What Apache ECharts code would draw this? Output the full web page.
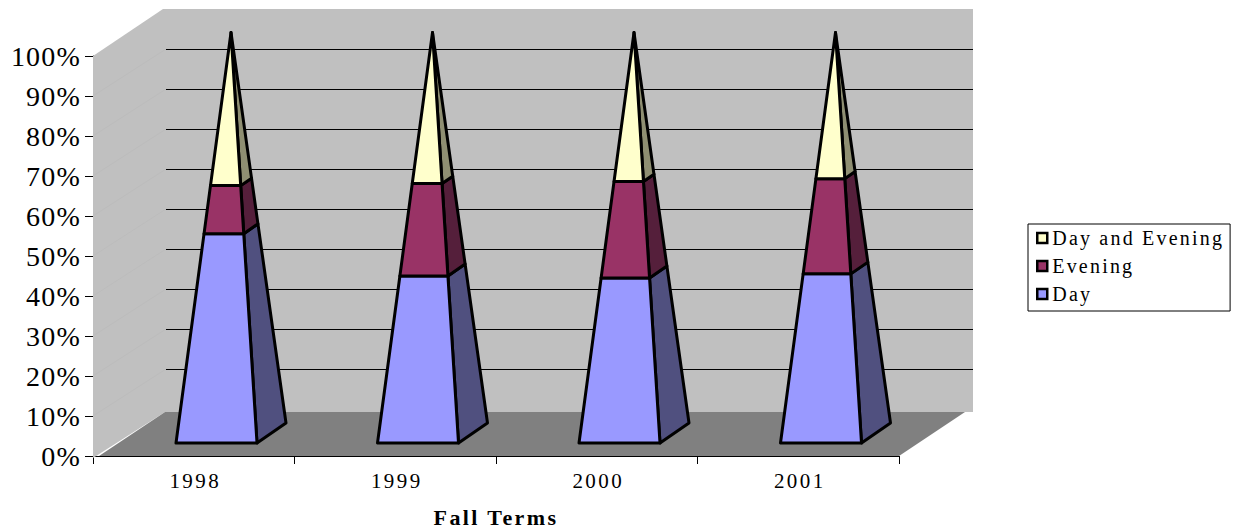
<!DOCTYPE html>
<html><head><meta charset="utf-8">
<style>html,body{margin:0;padding:0;background:#fff}#c{width:1235px;height:529px}svg text{letter-spacing:2.4px}svg text[style*="28px"]{letter-spacing:1.2px}svg text[style*="20px"]{letter-spacing:2.2px}</style>
<script src="https://cdn.jsdelivr.net/npm/echarts@6/dist/echarts.min.js"></script>
</head><body><div id="c"></div>
<script>
const terms = ['1998','1999','2000','2001'];
const day = [51, 40.7, 40.2, 41.2];
const evening = [11.7, 22.5, 23.5, 23.2];
const dayAndEvening = [37.3, 36.8, 36.3, 35.6];
const wallGridValues = [10,20,30,40,50,60,70,80,90];

const DEPTH_X = 73, DEPTH_Y = -47;
const stroke = {stroke:'#000', lineWidth:3, lineJoin:'round'};

function wallsItem(params, api){
  const r = params.coordSys;
  const xL = r.x, xR = r.x + r.width, y0 = api.coord([0,0])[1], y100 = api.coord([0,100])[1];
  const kids = [];
  const poly = (points, fill) => kids.push({type:'polygon', shape:{points}, style:{fill, stroke:null}});
  poly([[xL+DEPTH_X-3,y100+DEPTH_Y],[xR+DEPTH_X+1,y100+DEPTH_Y],[xR+DEPTH_X+1,y0+DEPTH_Y+3],[xL+DEPTH_X-3,y0+DEPTH_Y+3]], '#c0c0c0');
  poly([[xL,y100],[xL+DEPTH_X-3,y100+DEPTH_Y],[xL+DEPTH_X-1,y0+DEPTH_Y+3],[xL,y0+2]], '#c0c0c0');
  poly([[xL+6,y0],[xL+DEPTH_X-1,y0+DEPTH_Y+3],[xR+DEPTH_X-7,y0+DEPTH_Y+3],[xR,y0]], '#808080');
  wallGridValues.forEach(v=>{
    const y = api.coord([0,v])[1];
    kids.push({type:'line', shape:{x1:xL,y1:y,x2:xL+DEPTH_X,y2:y+DEPTH_Y}, style:{stroke:'#bcbcbc',lineWidth:1}});
    kids.push({type:'line', shape:{x1:xL+DEPTH_X,y1:y+DEPTH_Y+0.5,x2:xR+DEPTH_X+1,y2:y+DEPTH_Y+0.5}, style:{stroke:'#000',lineWidth:1}});
  });
  return {type:'group', children:kids};
}

function pyramidItem(front, side){
  return function(params, api){
    const cat = api.value(0), lo = api.value(1), hi = api.value(2);
    const base = api.coord([cat,0]);
    const cx = base[0] + DEPTH_X/2 + 0.75, cy0 = base[1] + DEPTH_Y/2;
    const h = base[1] - api.coord([cat,100])[1];
    const pt = (v,dx,dy) => { const f = v/100, s = 1-f; return [cx + s*dx, cy0 - h*f + s*dy]; };
    const FL=[-55,10.5], FR=[26,10.5], BR=[55,-9.5];
    const sideShape = [pt(lo,...FR),pt(lo,...BR),pt(hi,...BR),pt(hi,...FR)];
    const frontShape = [pt(lo,...FL),pt(lo,...FR),pt(hi,...FR),pt(hi,...FL)];
    return {type:'group', children:[
      {type:'polygon', shape:{points:sideShape}, style:{fill:side, ...stroke}},
      {type:'polygon', shape:{points:frontShape}, style:{fill:front, ...stroke}}
    ]};
  };
}

let lo = day.map(()=>0);
function stacked(values){
  const rows = values.map((v,i)=>[i, lo[i], lo[i]+v]);
  lo = rows.map(r=>r[2]);
  return rows;
}
const dayRows = stacked(day), eveningRows = stacked(evening), bothRows = stacked(dayAndEvening);

const chart = echarts.init(document.getElementById('c'), null, {renderer:'svg'});
const serif = '"Liberation Serif","Times New Roman",serif';
chart.setOption({
  animation:false,
  backgroundColor:'#fff',
  textStyle:{fontFamily:serif},
  grid:{left:93, top:56, width:806, height:400, containLabel:false, outerBoundsMode:'none'},
  xAxis:{type:'category', data:terms, boundaryGap:true,
    axisLine:{show:true,lineStyle:{color:'#000',width:1}},
    axisTick:{show:true,length:8,lineStyle:{color:'#000',width:1}},
    axisLabel:{color:'#000',fontSize:21,fontFamily:serif,margin:14,padding:[0,0,0,3]},
    name:'Fall Terms', nameLocation:'middle', nameGap:50,
    nameTextStyle:{color:'#000',fontSize:22,fontWeight:'bold',fontFamily:serif}},
  yAxis:{type:'value',min:0,max:100,interval:10,
    axisLine:{show:true,lineStyle:{color:'#000',width:1}},
    axisTick:{show:true,length:8,lineStyle:{color:'#000',width:1}},
    splitLine:{show:false},
    axisLabel:{color:'#000',fontSize:28,fontFamily:serif,margin:12,formatter:'{value}%'}},
  legend:{orient:'vertical', left:1028, top:224, align:'left',
    data:['Day and Evening','Evening','Day'],
    icon:'rect', itemWidth:10, itemHeight:10, itemGap:8,
    padding:[4,39,7,8],
    backgroundColor:'#fff', borderColor:'#000', borderWidth:1,
    itemStyle:{borderColor:'#000',borderWidth:2.5},
    textStyle:{color:'#000',fontSize:20,fontFamily:serif}},
  series:[
    {type:'custom',name:'walls',silent:true,z:1,data:[[0]],renderItem:wallsItem,encode:{x:0}},
    {type:'custom',name:'Day',z:2,data:dayRows,itemStyle:{color:'#9999ff'},renderItem:pyramidItem('#9999ff','#50507f'),encode:{x:0,y:[1,2]}},
    {type:'custom',name:'Evening',z:3,data:eveningRows,itemStyle:{color:'#993366'},renderItem:pyramidItem('#993366','#551f3b'),encode:{x:0,y:[1,2]}},
    {type:'custom',name:'Day and Evening',z:4,data:bothRows,itemStyle:{color:'#ffffcc'},renderItem:pyramidItem('#ffffcc','#8f8f72'),encode:{x:0,y:[1,2]}}
  ]
});
</script></body></html>
